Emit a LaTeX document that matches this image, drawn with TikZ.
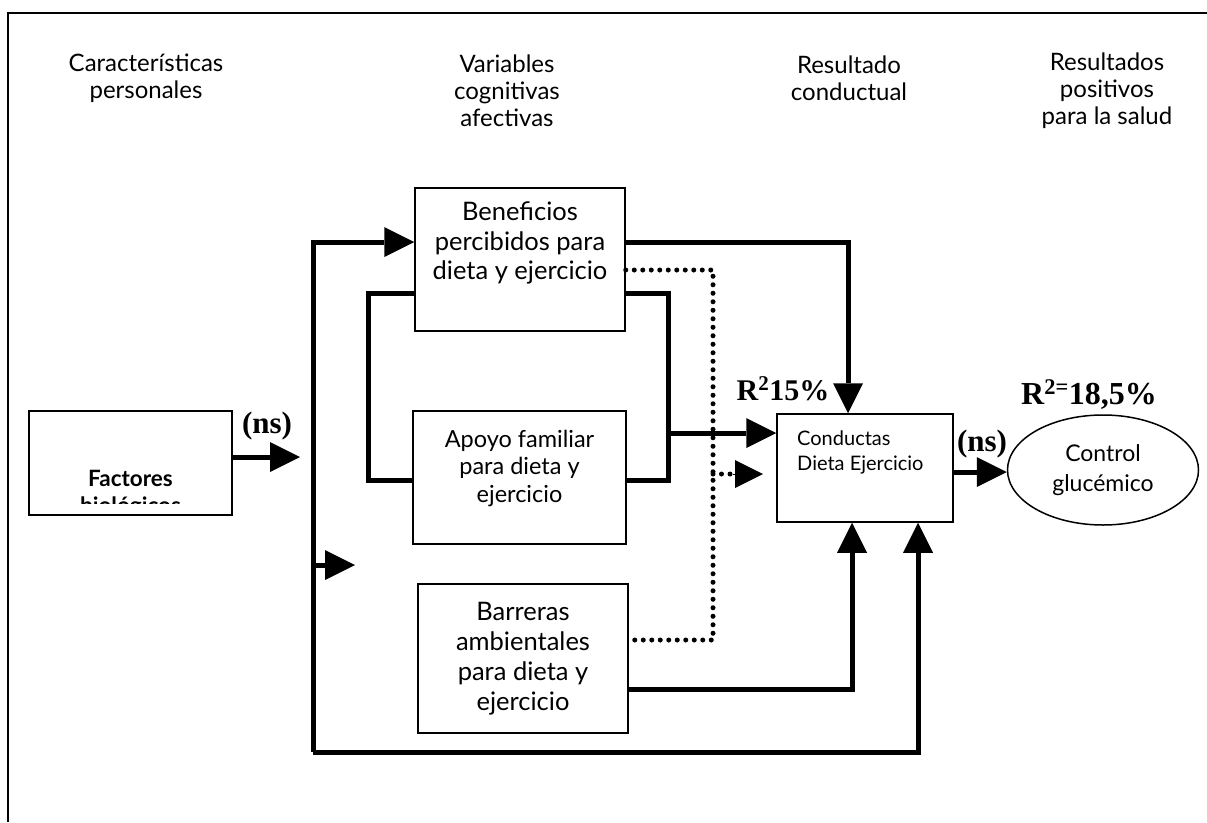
\documentclass[tikz,border=0pt]{standalone}
\usepackage{fontspec}
\setmainfont{Lato}
\newfontfamily\serifb{Liberation Serif}
\usetikzlibrary{arrows.meta,shapes.geometric}
\tikzset{
  box/.style={draw, line width=1.5pt, inner sep=0pt},
  heavy/.style={line width=5pt},
  tri/.style={-{Triangle[length=30pt,width=30pt,line width=0pt]}},
  dotline/.style={line width=5pt, line cap=round, dash pattern=on 0pt off 8.5pt},
  head/.style={align=center, font=\fontsize{24}{27}\selectfont, inner sep=0pt},
  btxt/.style={align=center, font=\fontsize{25.5}{29.5}\selectfont, inner sep=0pt},
  stat/.style={font=\serifb\bfseries\fontsize{31}{33}\selectfont, inner sep=0pt},
}
\begin{document}
\begin{tikzpicture}[x=1pt,y=-1pt]
\useasboundingbox (0,0) rectangle (1207,822);
% frame
\draw[line width=2pt] (8,822) -- (8,13) -- (1207,13);
% headings
\node[head] (h1) at (146,78) {Características\\personales};
\node[head] (h2) at (507,91) {Variables\\cognitivas\\afectivas};
\node[head] (h3) at (849,78) {Resultado\\conductual};
\node[head] (h4) at (1107,91) {Resultados\\positivos\\para la salud};
% boxes
\node[box, minimum width=203pt, minimum height=104pt] (fac) at (130.5,463) {};
\begin{scope}
\clip (29,411) rectangle (232,503);
\node[align=center, font=\bfseries\fontsize{22.5}{27}\selectfont, inner sep=0pt] (factxt) at (130.5,494) {Factores\\biológicos};
\end{scope}
\node[box, minimum width=210pt, minimum height=143pt] (ben) at (520,259.5) {};
\node[btxt] (bentxt) at (520,243) {Beneficios\\percibidos para\\dieta y ejercicio};
\node[box, minimum width=213pt, minimum height=133pt] (apo) at (519.5,477.5) {};
\node[btxt, font=\fontsize{23.5}{27.5}\selectfont] (apotxt) at (519.5,468) {Apoyo familiar\\para dieta y\\ejercicio};
\node[box, minimum width=210pt, minimum height=149pt] (bar) at (523,658.5) {};
\node[btxt, font=\fontsize{25.5}{30}\selectfont] (bartxt) at (523,659) {Barreras\\ambientales\\para dieta y\\ejercicio};
\node[box, minimum width=176pt, minimum height=108pt] (con) at (865,468) {};
\node[align=left, anchor=north west, font=\fontsize{20}{24.5}\selectfont, inner sep=0pt] (contxt) at (797,431) {Conductas\\Dieta Ejercicio};
\node[draw, ellipse, line width=1.5pt, minimum width=191pt, minimum height=110pt, inner sep=0pt, align=center, font=\fontsize{23}{30}\selectfont] (ctl) at (1103,470) {Control\\glucémico};
% stats labels
\node[stat] (ns1) at (267,426) {(ns)};
\node[stat] (ns2) at (982,444) {(ns)};
\node[stat, font=\serifb\bfseries\fontsize{30}{32}\selectfont, anchor=base] (r1) at (783,400) {R\textsuperscript{2}15\%};
\node[stat, font=\serifb\bfseries\fontsize{32}{34}\selectfont, anchor=base] (r2) at (1089,404) {R\textsuperscript{2=}18,5\%};
% coordinates
\coordinate (tt) at (313,242);
\coordinate (tb) at (313,752);
\coordinate (bx) at (668,293);
\coordinate (dx) at (713,270);
% connectors
\draw[heavy, tri] (fac.east |- 0,457) -- (300,457);
\draw[heavy, tri, line join=miter] (tb) -- (tt) -- (ben.west |- tt);
\draw[heavy, tri] (313,565) -- (355,565);
\draw[heavy, tri, line join=miter] (tb) -| (con.south -| 918,0);
\draw[heavy, tri, line join=miter] (ben.east |- tt) -| (con.north -| 848,0);
\draw[heavy, line join=miter] (ben.west |- bx) -- (368,293) -- (368,480) -- (apo.west |- 0,480);
\draw[heavy, line join=miter] (ben.east |- bx) -- (bx) -- (668,480) -- (apo.east |- 0,480);
\draw[heavy, tri] (668,433) -- (con.west |- 0,433);
\draw[heavy, tri, line join=miter] (bar.east |- 0,689) -| (con.south -| 852,0);
\draw[dotline] (ben.east |- dx) -- (dx) -- (713,640) -- (bar.east |- 0,640);
\draw[dotline] (713,474) -- (735,474);
\draw[line width=0pt, -{Triangle[length=28pt,width=28pt,line width=0pt]}] (733,474) -- (763,474);
\draw[heavy, tri] (con.east |- 0,472) -- (ctl.west |- 0,472);
\end{tikzpicture}
\end{document}
